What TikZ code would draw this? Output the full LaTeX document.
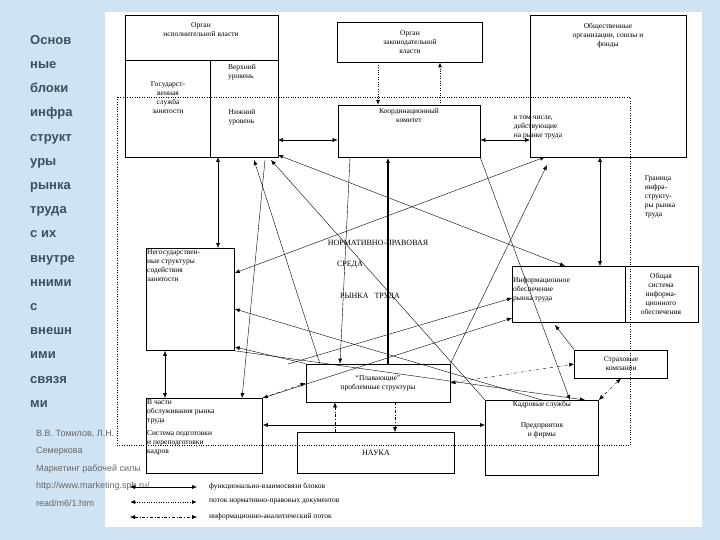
\documentclass[tikz,border=0pt]{standalone}
\usepackage{fontspec}
\setmainfont{Liberation Serif}
\newfontfamily\sidefont{Liberation Sans}
\usetikzlibrary{positioning,arrows.meta}
\definecolor{slideblue}{HTML}{CFE3F3}
\definecolor{sidetext}{HTML}{3E4E63}
\begin{document}
\begin{tikzpicture}[x=1pt,y=-1pt,
    box/.style={draw, thick, inner sep=1pt, align=center, font=\fontsize{7.5}{9}\selectfont},
    lbl/.style={inner sep=1pt, align=left, font=\fontsize{7.5}{9}\selectfont},
    arrow/.style={-{Latex[length=5pt,width=4pt]}, thin},
    both/.style={{Latex[length=5pt,width=4pt]}-{Latex[length=5pt,width=4pt]}, thin},
    normflow/.style={dotted, thick},
    infoflow/.style={dash dot, thin}
]
% slide
\fill[slideblue] (0,0) rectangle (720,540);
\fill[white] (105,12) rectangle (702,527);
\node[font=\sidefont\bfseries\fontsize{13}{24.2}\selectfont, text=sidetext, align=left, anchor=north west, inner sep=0pt] (title) at (30,35)
  {Основ\\ные\\блоки\\инфра\\структ\\уры\\рынка\\труда\\с их\\внутре\\нними\\с\\внешн\\ими\\связя\\ми};
\node[font=\sidefont\fontsize{9}{17.5}\selectfont, text=gray!80!black, align=left, anchor=north west, inner sep=0pt] (src) at (36,430)
  {В.В. Томилов, Л.Н.\\Семеркова\\Маркетинг рабочей силы\\http://www.marketing.spb.ru/\\read/m6/1.htm};
% infrastructure frame
\draw[dotted] (117,97) rectangle (630,445);
% top blocks
\draw[thick] (125,15) rectangle (278,157);
\draw[thick] (125,60) -- (278,60) (210,60) -- (210,157);
\node[lbl, align=center] (exec) at (201,30) {Орган\\исполнительной власти};
\node[lbl, align=center] (gsz) at (168,98) {Государст-\\венная\\служба\\занятости};
\node[lbl] (upper) at (242,72) {Верхний\\уровень};
\node[lbl] (lower) at (242,117) {Нижний\\уровень};
\coordinate (execR) at (278,140);
\node[box, minimum width=145pt, minimum height=40pt] (leg) at (410,42) {Орган\\законодательной\\власти};
\draw[thick] (530,15) rectangle (686,157);
\node[lbl, align=center] (pub) at (608,36) {Общественные\\организации, союзы и\\фонды};
\node[lbl] (incl) at (538,128) {в том числе,\\действующие\\на рынке труда};
\node[box, anchor=north, minimum width=142pt, minimum height=52pt,
  label={[lbl, align=center, anchor=north]north:\\[-2pt]Координационный\\комитет}] (coord) at (409,105) {};
\node[lbl] (border) at (660,197) {Граница\\инфра-\\структу-\\ры рынка\\труда};
% middle
\node[box, anchor=north west, minimum width=88pt, minimum height=102pt,
  label={[lbl, anchor=north west]north west:Негосударствен-\\ные структуры\\содействия\\занятости}] (negos) at (146,248) {};
\node[font=\fontsize{8}{9}\selectfont] (npa) at (378,243) {НОРМАТИВНО-ПРАВОВАЯ};
\node[font=\fontsize{8}{9}\selectfont] (sreda) at (350,265) {СРЕДА};
\node[font=\fontsize{8}{9}\selectfont] (market) at (370,297) {РЫНКА \ \ ТРУДА};
\draw[thick] (512,266) rectangle (698,322) (625,266) -- (625,322);
\node[lbl, anchor=north west] (info) at (512,276) {Информационное\\обеспечение\\рынка труда};
\node[lbl, align=center] (infosys) at (661,294) {Общая\\система\\информа-\\ционного\\обеспечения};
\coordinate (infoT) at (565,266);
\node[box, minimum width=93pt, minimum height=28pt] (ins) at (621,364) {Страховые\\компании};
\node[box, minimum width=144pt, minimum height=38pt] (float) at (378,383) {``Плавающие''\\проблемные структуры};
% bottom
\node[box, anchor=north west, minimum width=116pt, minimum height=75pt,
  label={[lbl, anchor=north west]north west:В части\\обслуживания рынка\\труда\\[4pt]Система подготовки\\и переподготовки\\кадров}] (serv) at (146,398) {};
\node[box, minimum width=157pt, minimum height=41pt, font=\fontsize{8}{9}\selectfont] (science) at (376,453) {НАУКА};
\node[box, anchor=north west, minimum width=113pt, minimum height=75pt,
  label={[lbl, align=center, anchor=north]north:Кадровые службы\\[12pt]Предприятия\\и фирмы}] (staff) at (485,400) {};
% connectors
\draw[both] (execR) -- (coord.west |- execR);
\draw[both] (coord.east |- execR) -- (530,140);
\draw[arrow, normflow] (leg.south -| 378,0) -- (coord.north -| 378,0);
\draw[arrow, normflow] (coord.north -| 440,0) -- (leg.south -| 440,0);
\draw[both] (218,157) -- (negos.north -| 218,0);
\draw[both] (600,157) -- (infoT -| 600,0);
\draw[arrow, very thick] (float.north -| 388,0) -- (coord.south -| 388,0);
\draw[both] (negos.south -| 165,0) -- (serv.north -| 165,0);
\draw[both] (serv.east |- 0,425) -- (staff.west |- 0,425);
\draw[arrow, infoflow] (science.north -| 335,0) -- (float.south -| 335,0);
\draw[arrow, infoflow] (float.south -| 395,0) -- (science.north -| 395,0);
\draw[both, infoflow] (ins.south) -- (staff.north east);
\draw[both, infoflow] (float.east) -- (ins.west);
\draw[both, infoflow] (float.west) -- (serv.north east);
\draw[arrow] (ins.north west) -- (555,325);
\draw[arrow] (320,364) -- (254,160);
\draw[arrow] (staff.north west) -- (271,160);
\draw[both] (278,155) -- (infoT);
\draw[both] (545,157) -- (negos.east |- 0,273);
\draw[arrow] (float.north east) -- (547,165);
\draw[arrow] (staff.north) -- (negos.east |- 0,309);
\draw[arrow] (serv.north east) -- (512,318);
\draw[arrow] (float.north west) -- (negos.east |- 0,347);
\draw[arrow] (288,364) -- (512,298);
\draw[arrow] (265,160) -- (serv.north -| 242,0);
\draw[arrow] (coord.south east) -- (staff.north -| 570,0);
\draw[arrow] (coord.south -| 350,0) -- (float.north -| 340,0);
\draw[arrow] (negos.south east) -- (staff.north -| 585,0);
% legend
\coordinate (l1a) at (130,487); \coordinate (l1b) at (197,487);
\coordinate (l2a) at (130,502); \coordinate (l2b) at (197,502);
\coordinate (l3a) at (130,517); \coordinate (l3b) at (197,517);
\draw[both] (l1a) -- (l1b);
\draw[both, normflow] (l2a) -- (l2b);
\draw[both, infoflow] (l3a) -- (l3b);
\node[lbl, anchor=west] (leg1) at (208,487) {функционально-взаимосвязи блоков};
\node[lbl, anchor=west] (leg2) at (208,502) {поток нормативно-правовых документов};
\node[lbl, anchor=west] (leg3) at (208,517) {информационно-аналитический поток};
\end{tikzpicture}
\end{document}
